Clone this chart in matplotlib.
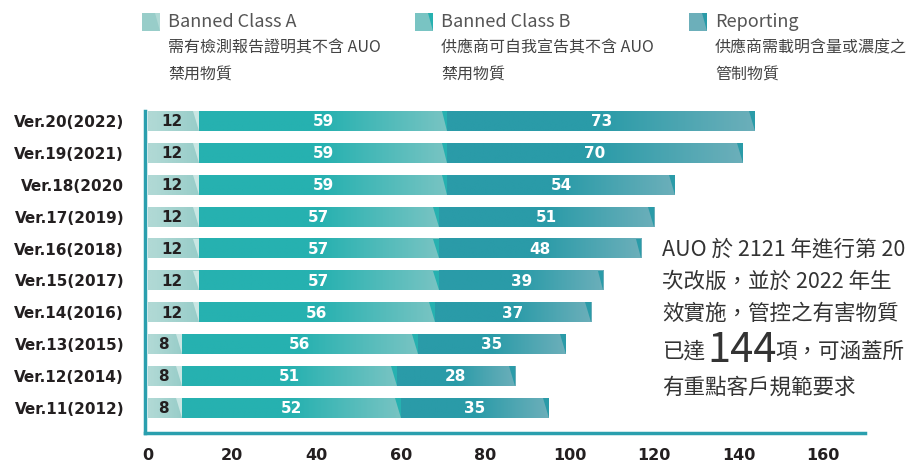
import numpy as np
import matplotlib.pyplot as plt
from matplotlib.patches import Polygon
from matplotlib.colors import to_rgb

# data
versions = ['Ver.20(2022)', 'Ver.19(2021)', 'Ver.18(2020', 'Ver.17(2019)', 'Ver.16(2018)',
            'Ver.15(2017)', 'Ver.14(2016)', 'Ver.13(2015)', 'Ver.12(2014)', 'Ver.11(2012)']
class_a = [12, 12, 12, 12, 12, 12, 12, 8, 8, 8]
class_b = [59, 59, 59, 57, 57, 57, 56, 56, 51, 52]
reporting = [73, 70, 54, 51, 48, 39, 37, 35, 28, 35]
xticks = [0, 20, 40, 60, 80, 100, 120, 140, 160]

legend_titles = ['Banned Class A', 'Banned Class B', 'Reporting']
legend_desc = [['需有檢測報告證明其不含 AUO', '禁用物質'],
               ['供應商可自我宣告其不含 AUO', '禁用物質'],
               ['供應商需載明含量或濃度之', '管制物質']]
note_lines = ['AUO 於 2121 年進行第 20', '次改版，並於 2022 年生', '效實施，管控之有害物質']
note_big = '144'
note_last = '有重點客戶規範要求'

# colours: (solid, light end, corner triangle)
styles = [('#b0d9d5', '#98cdc9', '#c9e6e3'),
          ('#26b1b0', '#79c4c3', '#26b1b0'),
          ('#2a9ba8', '#6cafba', '#2a9ba8')]
text_cols = ['#231f20', 'white', 'white']

CJK = ['Noto Sans CJK TC', 'DejaVu Sans']

W, H = 924, 463
fig = plt.figure(figsize=(W / 100, H / 100), dpi=100)
ax = fig.add_axes([145 / W, (H - 433) / H, (865 - 145) / W, (433 - 111) / H])

bar_h = 0.62
tri_w = 1.4
n = len(versions)
ypos = np.arange(n)[::-1]


def grad_img(c0, c1, start=0.5, npts=200):
    c0, c1 = np.array(to_rgb(c0)), np.array(to_rgb(c1))
    t = np.linspace(0, 1, npts)
    f = np.clip((t - start) / (1 - start), 0, 1)[:, None]
    return (c0 * (1 - f) + c1 * f)[None, :, :]


for i in range(n):
    y = ypos[i]
    left = 0
    for k, vals in enumerate([class_a, class_b, reporting]):
        v = vals[i]
        solid, light, corner = styles[k]
        start = 0.1 if k == 0 else 0.5
        ax.imshow(grad_img(solid, light, start), extent=(left, left + v, y - bar_h / 2, y + bar_h / 2),
                  aspect='auto', interpolation='bilinear', zorder=2)
        right = left + v
        top, bot = y + bar_h / 2, y - bar_h / 2
        ax.add_patch(Polygon([(right - tri_w, top), (right, top), (right, bot)],
                             closed=True, facecolor=corner, edgecolor='none', zorder=3))
        if k == 0:
            cx = left + v / 2 - 0.4
        else:
            cx = left + v / 2
        ax.text(cx, y - 0.02, str(v), ha='center', va='center', color=text_cols[k],
                fontsize=11, fontweight='bold', zorder=4)
        left = right

ax.set_xlim(-0.7, 170)
ax.set_ylim(-0.78, n - 1 + bar_h / 2)
ax.set_yticks(ypos)
ax.set_yticklabels(versions, fontsize=11, fontweight='bold', color='#231f20')
ax.set_xticks(xticks)
ax.set_xticklabels([str(t) for t in xticks], fontsize=11.5, fontweight='bold', color='#231f20')
ax.tick_params(axis='y', length=0, pad=15)
ax.tick_params(axis='x', length=0, pad=11)
for s in ['top', 'right']:
    ax.spines[s].set_visible(False)
for s in ['left', 'bottom']:
    ax.spines[s].set_color('#2a9fae')
    ax.spines[s].set_linewidth(2.5)


def fx(px):
    return px / W


def fy(py):
    return (H - py) / H


# legend
leg_x = [142, 415, 689]
for k in range(3):
    x0 = leg_x[k]
    solid, light, corner = styles[k]
    fig.patches.append(Polygon([(fx(x0), fy(13)), (fx(x0 + 18), fy(13)), (fx(x0 + 18), fy(31)), (fx(x0), fy(31))],
                               closed=True, transform=fig.transFigure, facecolor=light, edgecolor='none'))
    fig.patches.append(Polygon([(fx(x0 + 13), fy(13)), (fx(x0 + 18), fy(13)), (fx(x0 + 18), fy(31))],
                               closed=True, transform=fig.transFigure, facecolor=solid, edgecolor='none'))
    fig.text(fx(x0 + 26), fy(22), legend_titles[k], ha='left', va='center', fontsize=13,
             color='#555555', family=CJK, fontweight='light')
    fig.text(fx(x0 + 26), fy(48), legend_desc[k][0], ha='left', va='center', fontsize=11.5,
             color='#444444', family=CJK, fontweight='light')
    fig.text(fx(x0 + 26), fy(75), legend_desc[k][1], ha='left', va='center', fontsize=11.5,
             color='#444444', family=CJK, fontweight='light')

# note on the right
for j, line in enumerate(note_lines):
    fig.text(fx(662), fy(250 + 32 * j), line, ha='left', va='center', fontsize=15.5,
             color='#333333', family=CJK, fontweight='light')
fig.text(fx(662), fy(358), '已達', ha='left', va='baseline', fontsize=15.5,
         color='#333333', family=CJK, fontweight='light')
fig.text(fx(707), fy(362), note_big, ha='left', va='baseline', fontsize=30,
         color='#333333', family=CJK, fontweight=100)
fig.text(fx(775), fy(358), '項，可涵蓋所', ha='left', va='baseline', fontsize=15.5,
         color='#333333', family=CJK, fontweight='light')
fig.text(fx(662), fy(388), note_last, ha='left', va='center', fontsize=15.5,
         color='#333333', family=CJK, fontweight='light')

fig.savefig('out.png', dpi=100)
